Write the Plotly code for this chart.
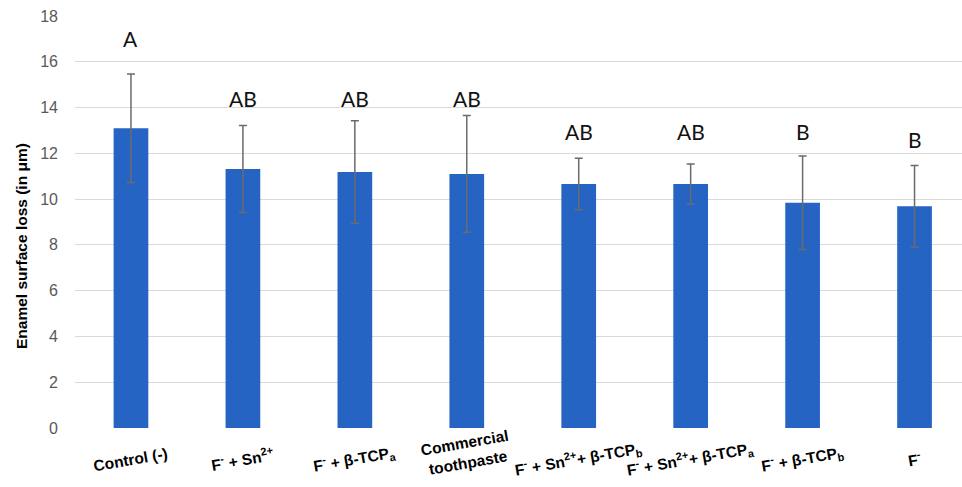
import plotly.graph_objects as go

categories = ["Control (-)", "F<sup>-</sup> + Sn<sup>2+</sup>", "F<sup>-</sup> + β-TCP<sub>a</sub>",
              "Commercial<br>toothpaste", "F<sup>-</sup> + Sn<sup>2+</sup>+ β-TCP<sub>b</sub>",
              "F<sup>-</sup> + Sn<sup>2+</sup>+ β-TCP<sub>a</sub>", "F<sup>-</sup> + β-TCP<sub>b</sub>", "F<sup>-</sup>"]
means = [13.1, 11.32, 11.18, 11.1, 10.66, 10.66, 9.84, 9.69]
sds = [2.37, 1.9, 2.24, 2.55, 1.13, 0.87, 2.04, 1.78]
letters = ["A", "AB", "AB", "AB", "AB", "AB", "B", "B"]
letter_y = [17.0, 14.39, 14.39, 14.39, 12.97, 12.97, 12.97, 12.6]
y_ticks = [0, 2, 4, 6, 8, 10, 12, 14, 16, 18]

xi = list(range(len(categories)))

fig = go.Figure()
fig.add_trace(go.Bar(
    x=xi, y=means,
    marker=dict(color="rgb(38,100,196)", line=dict(width=0)),
    error_y=dict(type="data", array=sds, visible=True, color="#6b6b6b", thickness=1.5, width=4),
    width=0.31,
))

for i, (lt, ly) in enumerate(zip(letters, letter_y)):
    fig.add_annotation(x=i, y=ly, xref="x", yref="y", text=lt, showarrow=False,
                       font=dict(family="Lato, Open Sans, sans-serif", size=21, color="#111111"),
                       xanchor="center", yanchor="middle")

for i, c in enumerate(categories):
    yy = -0.06 if "<br>" in c else -0.076
    fig.add_annotation(x=i, y=yy, xref="x", yref="paper", text="<b>" + c + "</b>", showarrow=False,
                       textangle=-10, xanchor="center", yanchor="middle",
                       font=dict(family="Liberation Sans, Arial, sans-serif", size=15.5, color="#000000"))

fig.add_annotation(x=(21 - 75) / 887, y=(428 - 246) / 412, xref="paper", yref="paper",
                   text="<b>Enamel surface loss (in μm)</b>",
                   showarrow=False, textangle=-90, xanchor="center", yanchor="middle",
                   font=dict(family="Liberation Sans, Arial, sans-serif", size=15.5, color="#000000"))

fig.update_layout(
    width=962, height=487,
    margin=dict(l=75, r=0, t=16, b=59),
    plot_bgcolor="white", paper_bgcolor="white",
    showlegend=False,
    xaxis=dict(range=[-0.5, 7.424], showticklabels=False, showgrid=False, zeroline=False,
               showline=False, ticks=""),
    yaxis=dict(range=[0, 18], tickvals=y_ticks, showgrid=True, gridcolor="#d9d9d9", gridwidth=1,
               zeroline=False, showline=False, ticks="", ticklabelstandoff=16,
               tickfont=dict(family="Liberation Sans, Arial, sans-serif", size=16, color="#595959")),
)

fig.write_html("out.html", config={"displayModeBar": False},
               post_script="document.body.style.margin='0';document.body.style.overflow='hidden';")
